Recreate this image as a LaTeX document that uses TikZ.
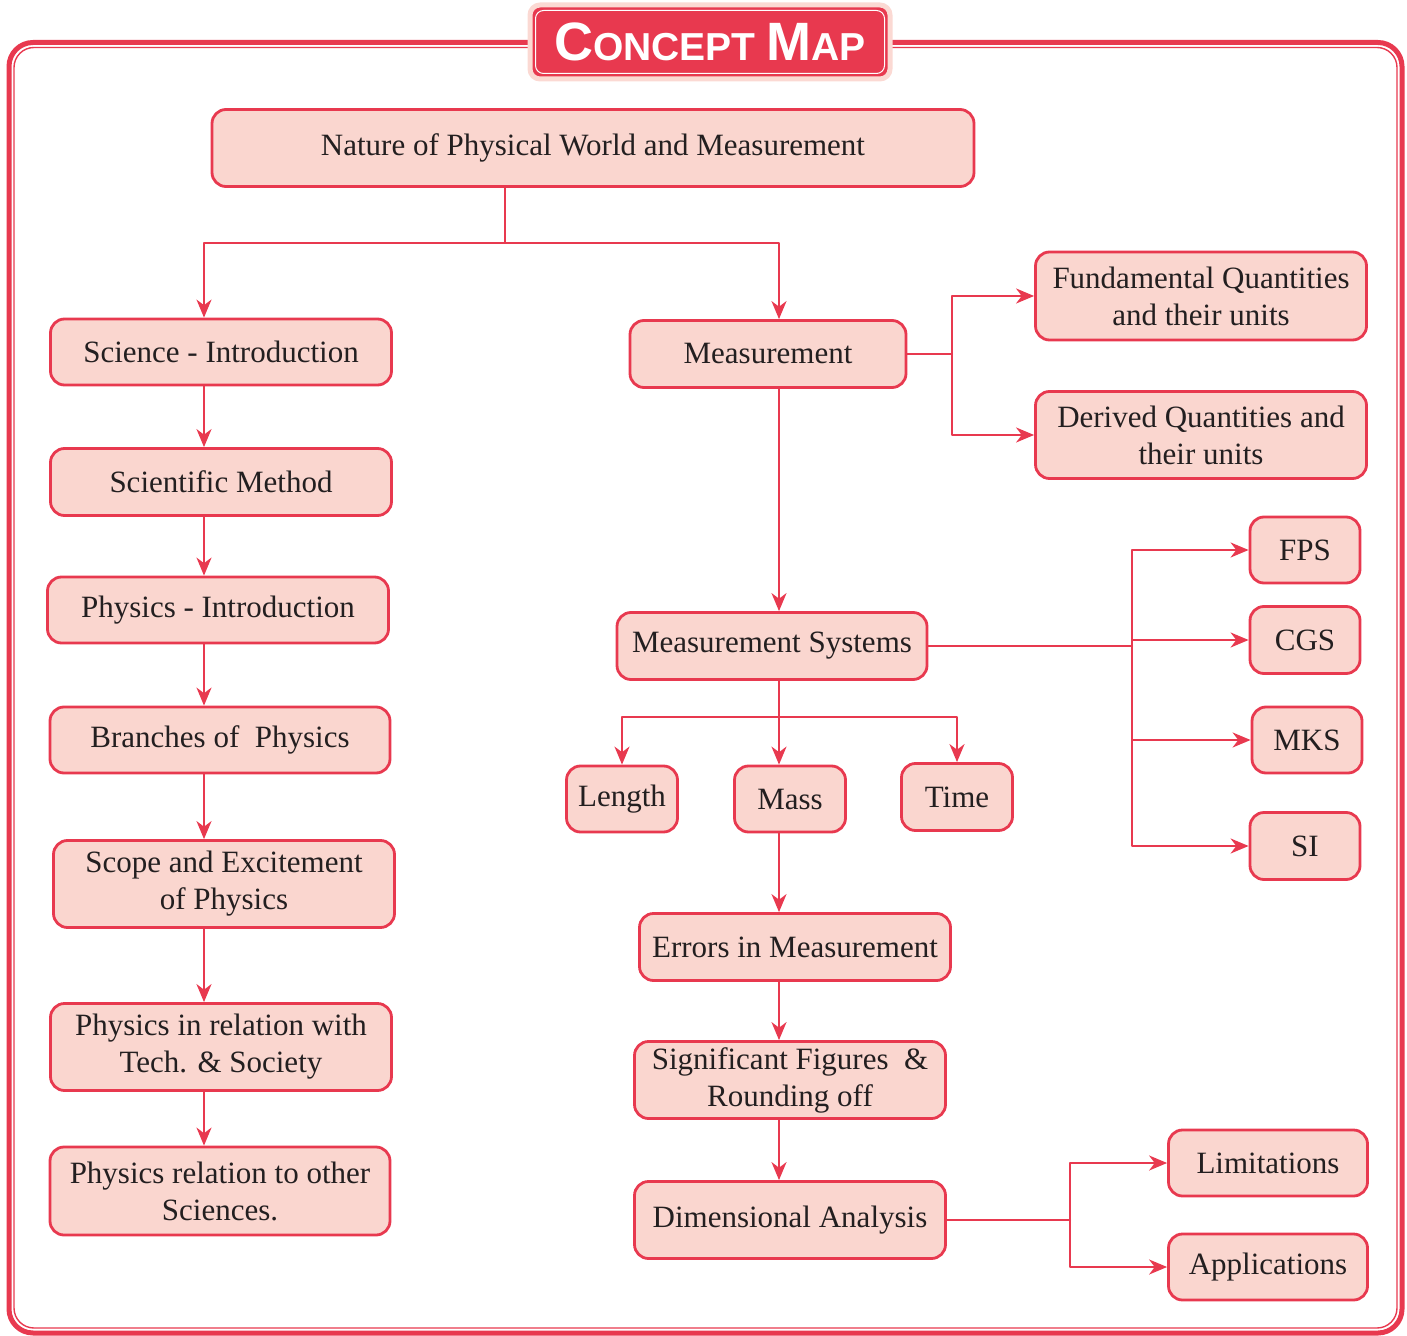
\documentclass[tikz,border=0pt]{standalone}
\usepackage{fontspec}
\setmainfont{Liberation Serif}
\newfontfamily\titlefont{Liberation Sans}
\usetikzlibrary{arrows.meta}
\definecolor{mapred}{HTML}{E8394F}
\definecolor{mapfill}{HTML}{FAD6CF}
\definecolor{mapglow}{HTML}{FBD9D3}
\definecolor{maptext}{HTML}{231F20}

\begin{document}
\begin{tikzpicture}[x=.5pt,y=-.5pt,line cap=round,line join=round,
  font=\fontsize{15.5}{18.5}\selectfont,
  box/.style={draw=mapred,fill=mapfill,line width=1.4pt,rounded corners=7pt,
    align=center,inner sep=0pt,text=maptext},
  sz/.style 2 args={minimum width=#1*.5pt,minimum height=#2*.5pt},
  conn/.style={draw=mapred,line width=1pt},
  arr/.style={conn,-{Stealth[length=9pt,width=7.5pt,inset=2.8pt]}}]
  \useasboundingbox (0,0) rectangle (1407,1336);
  % frame round the whole map
  \draw[mapred,line width=2.5pt,rounded corners=12pt] (9,42.5) rectangle (1402,1333);
  \draw[mapred,line width=.7pt,rounded corners=10pt] (14,47.5) rectangle (1397,1328);
  % title
  \node[fill=mapred,draw=mapglow,line width=2.5pt,rounded corners=5pt,sz={360}{74},
    text=white,font=\titlefont\bfseries\fontsize{19.5}{19.5}\selectfont] (title) at (710,42)
    {{\fontsize{27}{27}\selectfont C}ONCEPT {\fontsize{27}{27}\selectfont M}AP};
  \draw[white,line width=.5pt,rounded corners=4pt]
    ([shift={(4pt,-4pt)}]title.north west) rectangle ([shift={(-4pt,4pt)}]title.south east);
  % spines of the two columns
  \coordinate (lx) at (204,0);
  \coordinate (mx) at (779,0);
  % boxes
  \node[box,sz={762}{77}] (nature) at (593,148) {Nature of Physical World and Measurement};
  \node[box,sz={341}{66}] (sci) at (221,352) {Science - Introduction};
  \node[box,sz={341}{67}] (method) at (221,482) {Scientific Method};
  \node[box,sz={341}{66}] (phyint) at (218,610) {Physics - Introduction};
  \node[box,sz={340}{66}] (branch) at (220,740) {Branches of\ \ Physics};
  \node[box,sz={341}{87}] (scope) at (224,884) {Scope and Excitement\\of Physics};
  \node[box,sz={341}{87}] (tech) at (221,1047) {Physics in relation with\\Tech. \& Society};
  \node[box,sz={340}{88}] (other) at (220,1191) {Physics relation to other\\Sciences.};
  \node[box,sz={276}{67}] (meas) at (768,354) {Measurement};
  \node[box,sz={331}{88}] (fund) at (1201,296) {Fundamental Quantities\\and their units};
  \node[box,sz={331}{87}] (der) at (1201,435) {Derived Quantities and\\their units};
  \node[box,sz={310}{67}] (msys) at (772,646) {Measurement Systems};
  \node[box,sz={110}{66}] (fps) at (1305,550) {FPS};
  \node[box,sz={110}{67}] (cgs) at (1305,640) {CGS};
  \node[box,sz={110}{66}] (mks) at (1307,740) {MKS};
  \node[box,sz={110}{67}] (si) at (1305,846) {SI};
  \node[box,sz={111}{66}] (len) at (622,799) {Length};
  \node[box,sz={111}{66}] (mass) at (790,799) {Mass};
  \node[box,sz={111}{67}] (time) at (957,797) {Time};
  \node[box,sz={311}{67}] (err) at (795,947) {Errors in Measurement};
  \node[box,sz={311}{77}] (sig) at (790,1080) {Significant Figures\ \ \&\\Rounding off};
  \node[box,sz={311}{77}] (dim) at (790,1220) {Dimensional Analysis};
  \node[box,sz={199}{66}] (lim) at (1268,1163) {Limitations};
  \node[box,sz={199}{66}] (app) at (1268,1267) {Applications};
  % top split
  \coordinate (j1) at (505,243);
  \draw[conn] (nature.south -| j1) -- (j1);
  \draw[arr] (j1) -| (sci.north -| lx);
  \draw[arr] (j1) -| (meas.north -| mx);
  % left column
  \draw[arr] (sci.south -| lx) -- (method.north -| lx);
  \draw[arr] (method.south -| lx) -- (phyint.north -| lx);
  \draw[arr] (phyint.south -| lx) -- (branch.north -| lx);
  \draw[arr] (branch.south -| lx) -- (scope.north -| lx);
  \draw[arr] (scope.south -| lx) -- (tech.north -| lx);
  \draw[arr] (tech.south -| lx) -- (other.north -| lx);
  % quantities
  \coordinate (j2) at (952,354);
  \draw[conn] (meas.east) -- (j2);
  \draw[arr] (j2) |- (fund.west);
  \draw[arr] (j2) |- (der.west);
  % middle column
  \draw[arr] (meas.south -| mx) -- (msys.north -| mx);
  \coordinate (j3) at (1132,646);
  \draw[conn] (msys.east) -- (j3);
  \draw[arr] (j3) |- (fps.west);
  \draw[arr] (j3) |- (cgs.west);
  \draw[arr] (j3) |- (mks.west);
  \draw[arr] (j3) |- (si.west);
  \coordinate (j4) at (779,717);
  \draw[arr] (msys.south -| mx) -- (mass.north -| mx);
  \draw[arr] (j4) -| (len.north);
  \draw[arr] (j4) -| (time.north);
  \draw[arr] (mass.south -| mx) -- (err.north -| mx);
  \draw[arr] (err.south -| mx) -- (sig.north -| mx);
  \draw[arr] (sig.south -| mx) -- (dim.north -| mx);
  \coordinate (j5) at (1070,1220);
  \draw[conn] (dim.east) -- (j5);
  \draw[arr] (j5) |- (lim.west);
  \draw[arr] (j5) |- (app.west);
\end{tikzpicture}
\end{document}
